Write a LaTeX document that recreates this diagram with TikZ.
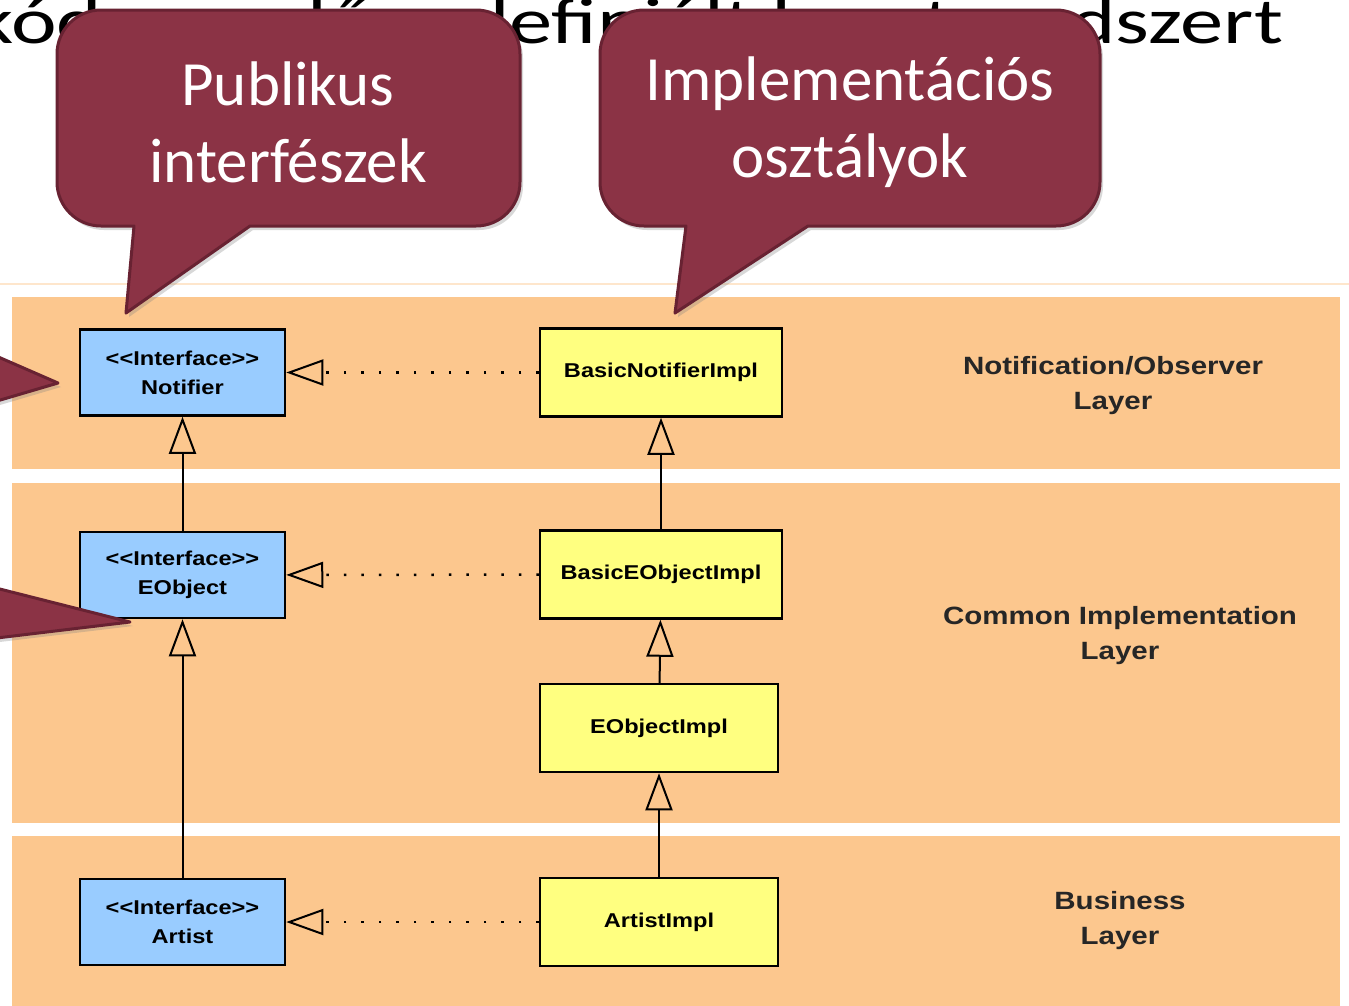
\documentclass[tikz,border=0pt]{standalone}
\usepackage{fontspec}
\setmainfont{Carlito}
\newfontfamily\titlefont[FakeStretch=1.33]{Carlito}
\newfontfamily\umlfont[FakeStretch=1.18]{Liberation Sans}
\usepackage{xcolor}
\usepackage{tikz}
\usetikzlibrary{arrows.meta,shadows}

\definecolor{bandorange}{RGB}{252,199,142}
\definecolor{ifaceblue}{RGB}{153,204,255}
\definecolor{implyellow}{RGB}{255,255,128}
\definecolor{bubblered}{RGB}{139,51,69}
\definecolor{bubbleedge}{RGB}{104,34,50}

\begin{document}
\begin{tikzpicture}[x=1pt, y=1pt,
  band/.style={fill=bandorange},
  iface/.style={draw=black, line width=2.5pt, fill=ifaceblue, minimum width=205pt, minimum height=86pt,
    inner sep=0pt, align=center, font=\umlfont\bfseries\fontsize{20}{29}\selectfont},
  impl/.style={draw=black, line width=2.5pt, fill=implyellow, minimum width=242pt, minimum height=88pt,
    inner sep=0pt, align=center, font=\umlfont\bfseries\fontsize{20}{29}\selectfont},
  layer/.style={align=center, text=black!85, font=\umlfont\bfseries\fontsize{25}{35}\selectfont},
  inherit/.style={line width=2pt, -{Triangle[open, length=37pt, width=27pt, line width=2pt]}},
  realize/.style={line width=2.5pt, dash pattern=on 2.5pt off 15pt,
    -{Triangle[open, length=37pt, width=26pt, line width=2pt]}},
  bubble/.style={fill=bubblered, draw=bubbleedge, line width=3pt, line join=round,
    drop shadow={shadow xshift=3pt, shadow yshift=-4pt, opacity=.3}},
  bubble text/.style={text=white, align=center, font=\fontsize{63}{77}\selectfont}]

\useasboundingbox (0,0) rectangle (1349,-1005);
\fill[white] (0,0) rectangle (1349,-1005);
\clip (0,0) rectangle (1349,-1005);

% slide title behind the bubbles
\node[anchor=base east, inner sep=0pt, font=\titlefont\fontsize{65}{78}\selectfont] (title) at (1283,-43)
  {kód egy előre definiált keretrendszert};

% layers
\draw[bandorange!45, line width=1.5pt] (0,-284) -- (1349,-284);
\fill[band] (12,-297) rectangle (1340,-469);
\fill[band] (12,-483) rectangle (1340,-823);
\fill[band] (12,-836) rectangle (1340,-1010);

\node[layer] (lnotif) at (1113,-386) {Notification/Observer\\Layer};
\node[layer] (lcommon) at (1120,-636) {Common Implementation\\Layer};
\node[layer] (lbusiness) at (1120,-921) {Business\\Layer};

% interfaces
\node[iface] (notifier) at (182.5,-372.5) {\textless\textless Interface\textgreater\textgreater\\Notifier};
\node[iface] (eobject) at (182.5,-575) {\textless\textless Interface\textgreater\textgreater\\EObject};
\node[iface] (artist) at (182.5,-922) {\textless\textless Interface\textgreater\textgreater\\Artist};

% implementations
\node[impl] (basicnotif) at (661,-372.5) {BasicNotifierImpl};
\node[impl] (basiceobj) at (661,-574.5) {BasicEObjectImpl};
\node[impl, minimum width=238pt] (eobjimpl) at (659,-728) {EObjectImpl};
\node[impl, minimum width=238pt] (artistimpl) at (659,-922) {ArtistImpl};

\draw[inherit] (eobject) -- (notifier);
\draw[inherit] (artist) -- (eobject);
\draw[inherit] (basiceobj) -- (basicnotif);
\draw[inherit] (eobjimpl) -- (basiceobj);
\draw[inherit] (artistimpl) -- (eobjimpl);

\draw[realize] (basicnotif) -- (notifier);
\draw[realize] (basiceobj) -- (eobject);
\draw[realize] (artistimpl) -- (artist);

% bubbles
\path[bubble] (134,-226) -- (126,-313) -- (250,-226) -- (476,-226)
  arc[start angle=-90, end angle=0, radius=44] -- (520,-54)
  arc[start angle=0, end angle=90, radius=44] -- (101,-10)
  arc[start angle=90, end angle=180, radius=44] -- (57,-182)
  arc[start angle=180, end angle=270, radius=44] -- cycle;
\node[bubble text] (pubtext) at (288,-122) {Publikus\\interfészek};

\path[bubble] (686,-226) -- (675,-313) -- (808,-226) -- (1056,-226)
  arc[start angle=-90, end angle=0, radius=44] -- (1100,-54)
  arc[start angle=0, end angle=90, radius=44] -- (644,-10)
  arc[start angle=90, end angle=180, radius=44] -- (600,-182)
  arc[start angle=180, end angle=270, radius=44] -- cycle;
\node[bubble text] (impltext) at (850,-122) {Implementációs\\osztályok};

% tails of the bubbles further left
\path[bubble] (-20,-349) -- (58,-383) -- (-20,-406);
\path[bubble] (-20,-584) -- (130,-622) -- (-20,-640);

\end{tikzpicture}
\end{document}
